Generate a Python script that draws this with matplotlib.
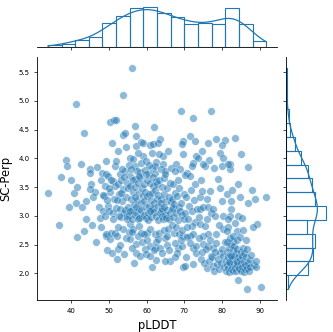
import matplotlib
matplotlib.use("Agg")
import matplotlib.pyplot as plt
import pandas as pd
import seaborn as sns

# values, grouped roughly by pLDDT bin
plddt = [
    33.8, 36.7, 37.2,
    38.7, 38.8, 39.5, 40.7, 39.9,
    41.2, 41.6, 41.3, 42.7, 43.8, 43.5, 41.6, 42.9, 43.5, 44.0,
    45.4, 45.7, 46.2, 45.3, 44.9, 45.0, 45.0, 46.9, 47.5, 48.0, 46.5, 47.3, 47.8,
    50.2, 51.3, 51.8, 48.4, 49.3, 50.2, 49.1, 50.6, 51.5, 49.1, 48.2, 49.3, 51.6, 51.1, 49.7, 50.7,
    48.6, 49.0, 49.8, 50.4, 51.0, 51.4, 48.9, 50.1, 51.7, 49.5, 50.9, 48.5, 51.2, 50.5, 49.4, 51.8, 50.0,
    53.6, 53.7, 54.2, 52.1, 52.4, 54.4, 55.5, 52.8, 54.2, 55.5, 55.5,
    52.0, 52.3, 52.6, 52.9, 53.1, 53.3, 53.5, 53.8, 54.0, 54.3, 54.6, 54.8, 55.0, 55.2, 52.2, 53.0,
    53.9, 54.7, 55.3, 52.5, 54.5, 53.4, 52.7, 55.1, 53.6, 54.1, 52.1, 55.4, 53.2, 54.9, 52.4,
    56.0, 57.0, 57.3, 57.1, 58.4, 59.0, 56.8, 59.0, 58.2, 56.8, 57.3, 57.3, 58.2, 57.7, 56.4,
    55.6, 55.8, 56.0, 56.1, 56.3, 56.5, 56.6, 56.9, 57.0, 57.2, 57.4, 57.5, 57.6, 57.8, 57.9, 58.0, 58.1, 58.3, 58.5,
    58.6, 58.7, 58.8, 59.0, 55.7, 56.2, 56.7, 58.9, 55.9, 56.4, 58.4, 57.7, 55.7, 58.1, 56.9, 57.3, 58.6, 56.1, 57.9,
    61.9, 60.8, 59.9, 61.3, 62.6, 62.2, 59.5, 59.8, 60.8, 61.4, 62.6, 62.2, 61.7, 61.3, 62.3, 60.5,
    59.2, 59.3, 59.4, 59.6, 59.7, 59.9, 60.0, 60.1, 60.2, 60.3, 60.4, 60.6, 60.7, 60.9, 61.0, 61.1, 61.2, 61.4, 61.5,
    61.6, 61.8, 61.9, 62.0, 62.1, 62.3, 62.4, 62.5, 62.7, 59.5, 60.2, 61.0, 59.3, 60.5, 61.7, 62.0, 59.8, 60.9, 62.4,
    63.5, 63.0, 64.4, 65.7, 64.4, 63.9, 64.8, 66.1, 64.8, 63.3,
    62.8, 62.9, 63.0, 63.1, 63.2, 63.4, 63.6, 63.7, 63.8, 64.0, 64.1, 64.2, 64.3, 64.5, 64.6, 64.7, 64.9, 65.0,
    65.1, 65.2, 65.3, 65.4, 65.5, 65.6, 65.8, 65.9, 66.0, 66.2, 66.3, 63.5, 64.2, 65.0, 63.9, 65.5, 62.9, 64.6,
    66.5, 67.9, 68.8, 67.5, 69.0, 69.7, 69.3, 69.7, 68.4, 69.3, 69.6, 69.7,
    66.5, 66.6, 66.7, 66.8, 66.9, 67.0, 67.1, 67.2, 67.3, 67.4, 67.6, 67.7, 67.8, 68.0,
    68.1, 68.2, 68.3, 68.5, 68.6, 68.7, 68.9, 69.1, 69.2, 69.4, 69.5, 69.8, 69.9, 67.5,
    70.1, 72.3, 72.3, 73.2, 71.5, 72.3, 70.6, 72.8, 71.9, 70.6, 71.6, 72.8, 72.2, 73.2, 72.3, 71.9, 70.8, 70.1, 71.5,
    70.2, 70.5, 70.9, 71.2, 71.4, 71.8, 72.0, 72.5, 72.9, 73.1, 73.4, 70.4,
    74.1, 75.5, 74.1, 75.0, 76.3, 74.1, 75.9, 74.6, 75.0, 76.3, 75.0, 76.3, 75.9, 76.3, 74.6, 76.6, 75.5, 75.0, 76.8, 73.7, 77.2, 77.2,
    73.8, 74.3, 74.8, 75.3, 75.7, 76.0, 76.5, 76.9, 77.0, 74.4, 73.9,
    77.7, 77.7, 78.6, 79.4, 78.1, 80.3, 77.7, 79.4, 79.0, 80.3, 78.4, 80.8, 80.1, 79.4, 80.3, 77.8, 79.9,
    77.4, 77.9, 78.2, 78.5, 78.8, 79.1, 79.6, 79.9, 80.2, 80.5, 80.7, 78.3, 79.2, 80.0,
    81.2, 82.5, 82.5, 84.3, 81.6, 83.9, 83.0, 81.2, 83.4, 82.1, 82.1, 81.6, 84.3, 82.1,
    81.0, 81.1, 81.3, 81.4, 81.5, 81.7, 81.8, 81.9, 82.0, 82.2, 82.3, 82.4, 82.6, 82.7, 82.8, 82.9, 83.1, 83.2, 83.3,
    83.5, 83.6, 83.7, 83.8, 84.0, 84.1, 84.2, 84.4, 81.2, 82.0, 83.0, 84.0, 81.6, 83.4, 82.6, 84.2, 81.9, 83.9, 82.5,
    84.8, 86.8, 87.9, 85.2, 84.8, 85.0, 86.5,
    84.6, 84.7, 84.9, 85.0, 85.1, 85.3, 85.4, 85.5, 85.7, 85.8, 85.9, 86.1,
    86.2, 86.4, 86.6, 86.7, 86.9, 87.1, 87.3, 87.5, 87.7, 85.6, 86.3, 87.0,
    91.7, 88.8, 89.2, 88.3, 90.3, 88.5, 89.0, 88.9,
]

sc_perp = [
    3.40, 2.84, 3.67,
    3.97, 3.87, 3.15, 3.40, 3.62,
    4.94, 3.50, 3.22, 3.90, 2.94, 2.74, 2.63, 3.15, 4.44, 3.26,
    2.84, 3.32, 3.42, 3.55, 3.47, 3.82, 3.75, 3.85, 2.97, 2.80, 2.55, 3.15, 3.62,
    4.64, 4.66, 4.67, 3.09, 2.65, 2.60, 2.68, 2.71, 2.71, 3.96, 3.74, 3.73, 3.86, 3.61, 3.70, 4.26,
    3.35, 3.52, 3.18, 3.41, 3.05, 3.30, 3.00, 3.08, 3.52, 2.41, 2.35, 3.36, 2.95, 3.62, 3.28, 3.14, 3.48,
    5.10, 4.41, 4.44, 2.65, 2.42, 2.61, 4.01, 3.73, 3.78, 3.70, 2.86,
    3.95, 3.55, 3.38, 3.12, 2.98, 3.62, 3.25, 3.46, 3.05, 3.10, 3.33, 3.58, 3.15, 2.72, 2.25, 2.50,
    2.33, 2.99, 3.88, 4.12, 4.20, 3.82, 3.00, 3.48, 2.78, 3.67, 3.28, 3.02, 3.40, 2.95, 2.80,
    5.57, 4.56, 4.38, 4.22, 4.29, 4.26, 3.87, 4.04, 3.77, 3.64, 2.51, 2.36, 2.31, 2.65, 2.77,
    3.52, 3.30, 3.10, 2.95, 3.42, 3.62, 3.20, 3.02, 3.50, 3.05, 3.78, 3.28, 2.95, 3.58, 3.12, 3.40, 2.82, 3.65, 3.22,
    2.70, 3.48, 3.00, 3.35, 2.60, 2.45, 2.18, 2.55, 3.82, 3.98, 3.92, 4.10, 3.08, 3.70, 3.32, 3.15, 3.10, 2.72, 2.96,
    4.55, 4.23, 3.96, 3.84, 3.94, 3.75, 2.42, 2.34, 2.48, 2.12, 2.23, 2.45, 4.25, 4.10, 3.87, 3.73,
    3.55, 3.25, 3.02, 3.42, 2.96, 3.15, 3.62, 2.70, 3.35, 3.05, 2.92, 3.38, 3.18, 2.78, 3.58, 3.28, 2.98, 3.40, 3.14,
    3.12, 3.52, 3.06, 3.22, 2.68, 3.45, 3.00, 2.55, 3.30, 3.80, 2.58, 2.30, 2.68, 3.88, 3.68, 2.40, 3.72, 3.08, 3.60,
    4.33, 4.27, 4.04, 4.13, 3.90, 3.81, 3.78, 2.22, 2.22, 4.07,
    3.55, 3.18, 2.92, 3.36, 2.70, 3.62, 3.05, 3.08, 3.30, 3.00, 3.50, 3.12, 2.95, 3.38, 2.75, 3.65, 3.02, 2.62,
    3.25, 2.97, 3.48, 2.50, 3.10, 2.78, 3.32, 2.95, 2.40, 3.58, 3.05, 2.45, 2.35, 3.72, 3.22, 2.65, 2.60, 3.15,
    3.84, 3.90, 3.81, 3.78, 4.83, 4.30, 4.25, 4.07, 2.45, 2.48, 2.12, 2.65,
    3.24, 3.12, 2.85, 3.30, 3.13, 3.55, 2.98, 3.20, 2.70, 3.40, 2.52, 3.05, 2.80, 3.35,
    2.35, 3.62, 2.92, 3.15, 2.68, 3.48, 3.08, 3.22, 2.58, 3.02, 2.75, 3.38, 2.95, 2.28,
    2.13, 2.16, 2.45, 2.48, 2.65, 2.68, 2.63, 2.89, 2.83, 2.80, 4.38, 4.30, 4.70, 4.04, 3.92, 3.87, 3.75, 3.71, 3.70,
    3.05, 3.32, 2.95, 3.18, 2.52, 3.45, 3.08, 3.28, 3.55, 2.35, 3.12, 2.28,
    2.86, 2.83, 3.12, 3.15, 3.15, 3.32, 3.29, 3.44, 2.51, 2.48, 2.65, 2.68, 2.09, 4.27, 4.13, 3.97, 3.87, 3.90, 3.44, 4.01, 4.83, 2.31,
    2.62, 2.25, 2.38, 2.18, 2.42, 2.95, 2.22, 2.58, 3.05, 3.62, 2.98,
    2.45, 2.13, 2.16, 2.36, 3.00, 3.00, 3.12, 3.49, 3.64, 2.77, 4.33, 4.32, 4.23, 4.10, 4.00, 3.84, 3.87,
    2.28, 2.05, 2.38, 2.52, 2.25, 2.08, 2.18, 2.42, 2.30, 2.12, 2.55, 2.68, 2.85, 3.25,
    3.38, 3.26, 3.12, 3.00, 2.80, 2.74, 2.57, 2.74, 4.36, 3.91, 3.81, 3.90, 1.89, 3.00,
    2.05, 2.22, 2.15, 2.38, 2.10, 2.28, 2.02, 2.45, 2.18, 2.32, 2.08, 2.50, 2.12, 2.25, 2.40, 2.04, 2.30, 2.16, 2.48,
    2.10, 2.35, 2.22, 2.05, 2.42, 2.14, 2.28, 2.08, 2.55, 2.62, 2.65, 2.58, 2.95, 2.88, 3.45, 3.55, 2.20, 2.19, 2.30,
    3.32, 3.23, 3.45, 2.97, 2.63, 4.07, 1.73,
    2.10, 2.25, 2.38, 2.05, 2.18, 2.30, 2.12, 2.45, 2.02, 2.20, 2.35, 2.08,
    2.15, 2.28, 2.42, 2.10, 2.18, 2.05, 2.24, 2.12, 2.32, 2.75, 2.58, 3.85,
    3.33, 3.29, 2.86, 2.80, 1.77, 2.15, 2.12, 2.22,
]

df = pd.DataFrame({"pLDDT": plddt, "SC-Perp": sc_perp})

g = sns.jointplot(
    data=df, x="pLDDT", y="SC-Perp", height=3.32,
    joint_kws=dict(s=30, alpha=0.5, edgecolor="white", linewidth=0.4),
    marginal_kws=dict(bins=16, kde=True, fill=False, linewidth=0.8,
                      line_kws=dict(linewidth=0.9)),
)

fig = g.figure
fig.set_size_inches(3.33, 3.32)
g.ax_joint.set_position([0.111, 0.0964, 0.721, 0.732])
g.ax_marg_x.set_position([0.111, 0.8575, 0.721, 0.1275])
g.ax_marg_y.set_position([0.859, 0.0964, 0.126, 0.732])

g.ax_joint.set_xlabel("pLDDT", fontsize=8.3)
g.ax_joint.set_ylabel("SC-Perp", fontsize=8.3)
for ax in (g.ax_joint, g.ax_marg_x, g.ax_marg_y):
    ax.tick_params(labelsize=5, length=2, width=0.5)
    for sp in ax.spines.values():
        sp.set_linewidth(0.6)

fig.savefig("out.png", dpi=100)
